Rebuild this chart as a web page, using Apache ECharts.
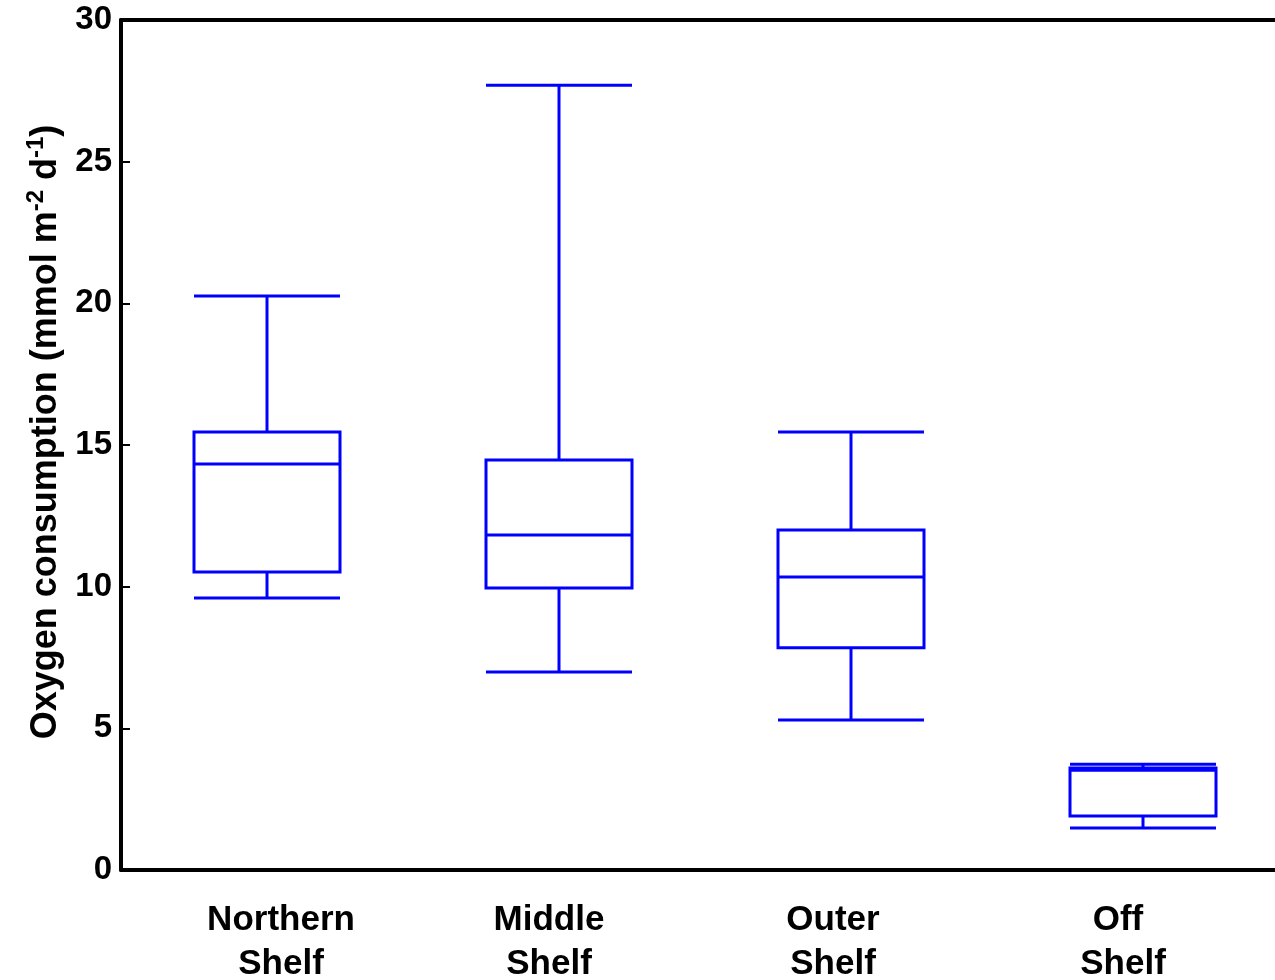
<!DOCTYPE html>
<html><head><meta charset="utf-8">
<script src="https://cdn.jsdelivr.net/npm/echarts@6/dist/echarts.min.js"></script>
<style>html,body{margin:0;padding:0;background:#fff}#c{width:1275px;height:980px}</style>
</head><body><div id="c"></div>
<script>
const categories = ['Northern\nShelf', 'Middle\nShelf', 'Outer\nShelf', 'Off\nShelf'];
const whiskerLow  = [9.6, 6.99, 5.29, 1.48];
const quartile1   = [10.52, 9.95, 7.84, 1.91];
const medians     = [14.33, 11.82, 10.34, 3.52];
const quartile3   = [15.46, 14.47, 12.0, 3.6];
const whiskerHigh = [20.26, 27.7, 15.46, 3.73];
const yTicks = [0, 5, 10, 15, 20, 25, 30];

const boxData = categories.map((c, i) => [whiskerLow[i], quartile1[i], medians[i], quartile3[i], whiskerHigh[i]]);
const font = 'Liberation Sans, Arial, sans-serif';
const lbl = { color: '#000', fontSize: 35, fontWeight: 'bold', fontFamily: font, lineHeight: 44 };
// horizontal label offsets (MATLAB-style placement in the reference)
const labelPads = [[0, 0, 0, 28], [0, 20, 0, 0], [0, 36, 0, 0], [0, 50, 0, 0], [0, 40, 0, 0]];
const chart = echarts.init(document.getElementById('c'));
chart.setOption({
  animation: false,
  grid: { left: 121, top: 20, width: 1168, bottom: 110, outerBoundsMode: 'none', containLabel: false },
  xAxis: [{
    type: 'category', data: categories, position: 'bottom',
    axisLine: { lineStyle: { color: '#000', width: 4 } },
    axisTick: { inside: true, length: 9, alignWithLabel: true, lineStyle: { color: '#000', width: 2 } },
    axisLabel: {
      margin: 28,
      formatter: function (v, i) {
        const lines = v.split('\n');
        if (i === 3) return '{p3|' + lines[0] + '}\n{p4|' + lines[1] + '}';
        return lines.map(l => '{p' + i + '|' + l + '}').join('\n');
      },
      rich: {
        p0: Object.assign({ padding: labelPads[0] }, lbl),
        p1: Object.assign({ padding: labelPads[1] }, lbl),
        p2: Object.assign({ padding: labelPads[2] }, lbl),
        p3: Object.assign({ padding: labelPads[3] }, lbl),
        p4: Object.assign({ padding: labelPads[4] }, lbl)
      }
    },
    splitLine: { show: false }
  }, {
    type: 'category', data: categories, position: 'top',
    axisLine: { lineStyle: { color: '#000', width: 4 } },
    axisTick: { inside: true, length: 9, alignWithLabel: true, lineStyle: { color: '#000', width: 2 } },
    axisLabel: { show: false }, splitLine: { show: false }
  }],
  yAxis: {
    type: 'value', min: yTicks[0], max: yTicks[yTicks.length - 1], interval: 5,
    axisLine: { show: true, lineStyle: { color: '#000', width: 4 } },
    axisTick: { show: true, inside: true, length: 9, lineStyle: { color: '#000', width: 2 } },
    axisLabel: { color: '#000', fontSize: 33, fontWeight: 'bold', fontFamily: font, margin: 9 },
    splitLine: { show: false },
    name: '{a|Oxygen consumption (mmol m}{s|-2}{a| d}{s|-1}{a|)}',
    nameLocation: 'middle', nameGap: 57, nameRotate: 90,
    nameTextStyle: {
      padding: [0, 0, 0, 26],
      rich: {
        a: { color: '#000', fontSize: 36, fontWeight: 'bold', fontFamily: font, lineHeight: 40, verticalAlign: 'bottom' },
        s: { color: '#000', fontSize: 24, fontWeight: 'bold', fontFamily: font, lineHeight: 40, verticalAlign: 'top' }
      }
    }
  },
  series: [{
    type: 'boxplot', data: boxData, boxWidth: [146, 146],
    itemStyle: { color: 'rgba(0,0,0,0)', borderColor: '#0000ff', borderWidth: 3 },
    emphasis: { disabled: true }
  }]
});
</script></body></html>
